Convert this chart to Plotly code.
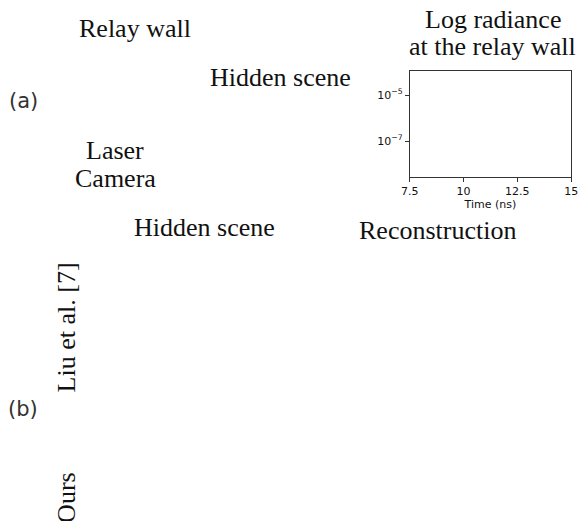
import plotly.graph_objects as go

W, H = 585, 521

# axis data
x_range = [7.5, 15]
x_ticks = [7.5, 10, 12.5, 15]
x_ticktext = ["7.5", "10", "12.5", "15"]
y_log_range = [-8.55, -3.94]
y_ticks = [1e-5, 1e-7]
y_ticktext = ["10<sup>−5</sup>", "10<sup>−7</sup>"]

# text labels: (text, x_px, y_px, angle)
serif_labels = [
    ("Relay wall", 130, 28.5, 0),
    ("Hidden scene", 279, 78, 0),
    ("Laser", 109, 150, 0),
    ("Camera", 110, 178.5, 0),
    ("Log radiance", 498, 20, 0),
    ("at the relay wall", 497.5, 46, 0),
    ("Hidden scene", 200.5, 227, 0),
    ("Reconstruction", 440.5, 230, 0),
    ("Liu et al. [7]", 59, 327, -90),
    ("Ours", 59, 497.5, -90),
]
sans_labels = [
    ("(a)", 14.5, 101),
    ("(b)", 14.5, 409),
]


def px(xp):
    return xp / W


def py(yp):
    return 1 - yp / H


fig = go.Figure()
fig.add_trace(go.Scatter(x=[], y=[], mode="lines", showlegend=False))

ann = []
for t, xp, yp, ang in serif_labels:
    ann.append(dict(text=t, x=px(xp), y=py(yp), xref="paper", yref="paper",
                    xanchor="center", yanchor="middle", showarrow=False, textangle=ang,
                    font=dict(family="Liberation Serif", size=26, color="#111")))
for t, xp, yp in sans_labels:
    ann.append(dict(text=t, x=px(xp), y=py(yp), xref="paper", yref="paper",
                    xanchor="center", yanchor="middle", showarrow=False,
                    font=dict(family="DejaVu Sans", size=21, color="#333")))

axis_font = dict(family="DejaVu Sans", size=11, color="#111")
fig.update_layout(
    width=W, height=H, margin=dict(l=0, r=0, t=0, b=0),
    paper_bgcolor="white", plot_bgcolor="white",
    annotations=ann,
    xaxis=dict(domain=[px(412), px(578)], range=x_range, tickvals=x_ticks, ticktext=x_ticktext,
               showgrid=False, zeroline=False, showline=True, mirror=True, linecolor="#333",
               linewidth=1, ticks="outside", ticklen=4, tickcolor="#333", tickfont=axis_font,
               ticklabeloverflow="allow",
               title=dict(text="Time (ns)", font=axis_font, standoff=2)),
    yaxis=dict(domain=[py(176.7), py(70.7)], type="log", range=y_log_range,
               tickvals=y_ticks, ticktext=y_ticktext,
               showgrid=False, zeroline=False, showline=True, mirror=True, linecolor="#333",
               linewidth=1, ticks="outside", ticklen=4, tickcolor="#333", tickfont=axis_font),
)
fig.write_html(
    "out.html",
    config={"responsive": False, "displayModeBar": False},
    post_script="document.body.style.margin='0';document.body.style.overflow='hidden';",
)
